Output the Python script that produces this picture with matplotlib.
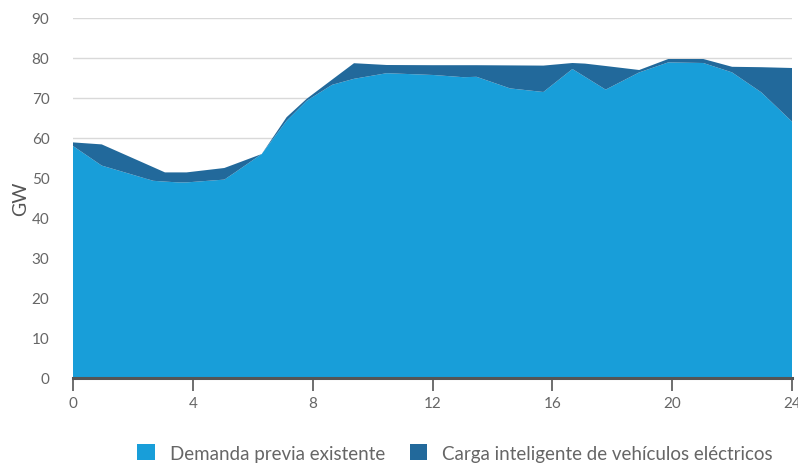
import matplotlib.pyplot as plt
from matplotlib.patches import Patch
import numpy as np

plt.rcParams['font.family'] = ['Lato', 'DejaVu Sans']

# hour of day (knots)
hours = [0, 0.96, 2.68, 3.07, 3.52, 3.79, 5.05, 5.41, 6.3, 7.13, 7.8, 8.65,
         9.38, 10.47, 12.03, 13.03, 13.47, 14.59, 15.7, 16.67, 17.09, 17.78,
         18.9, 19.87, 21.04, 22.0, 22.98, 24]
# existing demand, GW
demanda = [58.0, 53.1, 49.3, 49.1, 48.9, 48.9, 49.6, 51.4, 56.0, 64.3, 69.3, 73.3,
           74.8, 76.2, 75.75, 75.2, 75.3, 72.4, 71.5, 77.25, 75.3, 72.1,
           76.4, 78.9, 78.75, 76.4, 71.4, 64.1]
# total with smart EV charging, GW
total = [58.9, 58.4, 52.7, 51.4, 51.4, 51.4, 52.5, 53.5, 56.0, 65.2, 69.8, 74.6,
         78.7, 78.25, 78.2, 78.2, 78.2, 78.15, 78.1, 78.75, 78.6, 78.0,
         77.0, 79.75, 79.75, 77.8, 77.7, 77.5]
carga_ve = list(np.array(total) - np.array(demanda))

labels = ['Demanda previa existente', 'Carga inteligente de vehículos eléctricos']
colors = ['#189ed9', '#22699b']

fig = plt.figure(figsize=(7.98, 4.64), dpi=100)
ax = fig.add_axes([73/798, 85/464, 719/798, 360/464])

ax.stackplot(hours, demanda, carga_ve, colors=colors, linewidth=0, zorder=2)

ax.set_xlim(0, 24)
ax.set_ylim(0, 90)
ax.set_xticks(range(0, 25, 4))
ax.set_yticks(range(0, 91, 10))
ax.grid(axis='y', color='#d9d9d9', linewidth=1, zorder=0)
ax.set_axisbelow(True)

for s in ['top', 'right', 'left']:
    ax.spines[s].set_visible(False)
ax.spines['bottom'].set_color('#555555')
ax.spines['bottom'].set_linewidth(2.2)
ax.spines['bottom'].set_zorder(3)

ax.tick_params(axis='x', direction='out', length=9, width=1.2, color='#555555',
               labelsize=11, labelcolor='#666666', pad=4)
ax.tick_params(axis='y', length=0, labelsize=11, labelcolor='#666666', pad=17)
ax.set_ylabel('GW', fontsize=14, color='#555555', labelpad=2)

handles = [Patch(facecolor=c, edgecolor='none') for c in colors]
fig.legend(handles, labels, loc='center', bbox_to_anchor=(455/798, 10/464),
           ncol=2, frameon=False, fontsize=13.5, labelcolor='#666666',
           handlelength=0.95, handleheight=0.95, handletextpad=0.8, columnspacing=1.3)

fig.savefig('out.png', dpi=100)
